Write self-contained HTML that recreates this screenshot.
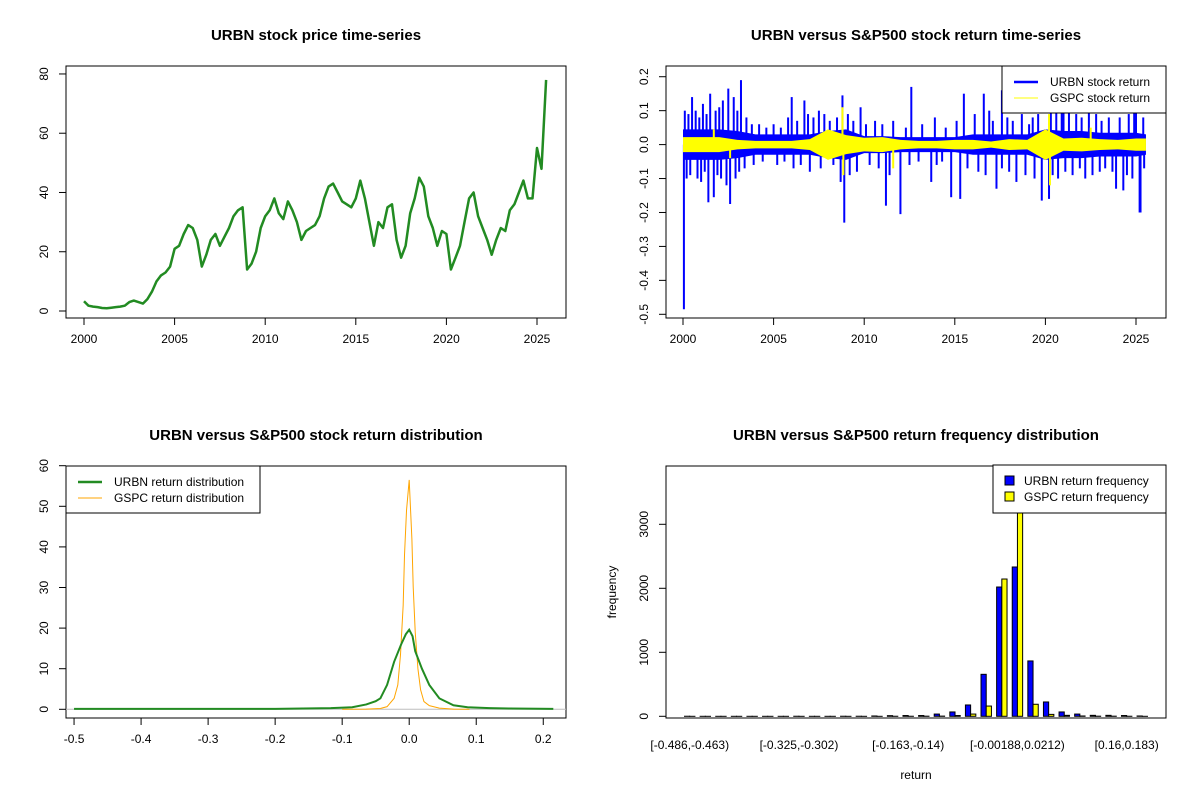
<!DOCTYPE html>
<html><head><meta charset="utf-8"><style>
html,body{margin:0;padding:0;background:#fff;}
svg{display:block;font-family:"Liberation Sans",Arial,sans-serif;}
</style></head><body>
<svg id="chart" width="1200" height="800" viewBox="0 0 1200 800" xmlns="http://www.w3.org/2000/svg"></svg>
<script>
// ---------- Panel 1: price ----------
const priceStartYear = 2000;
const priceStep = 0.25;
const priceValues = [3.3,1.8,1.5,1.3, 1.0,0.9,1.1,1.3, 1.5,1.8,3.0,3.5, 3.0,2.5,4.0,6.5, 10,12,13,15,
 21,22,26,29, 28,24,15,19, 24,26,22,25, 28,32,34,35, 14,16,20,28, 32,34,38,33, 31,37,34,30,
 24,27,28,29, 32,38,42,43, 40,37,36,35, 38,44,38,30, 22,30,28,35, 36,24,18,22, 33,38,45,42,
 32,28,22,27, 26,14,18,22, 30,38,40,32, 28,24,19,24, 28,27,34,36, 40,44,38,38, 55,48,78];
const priceTicksY = [0,20,40,60,80];
const yearTicks = [2000,2005,2010,2015,2020,2025];
// ---------- Panel 2: returns ----------
const bandYears = [2000,2001,2002,2003,2004,2005,2006,2007,2008,2009,2010,2011,2012,2013,2014,2015,2016,2017,2018,2019,2020,2021,2022,2023,2024,2025,2025.55];
const urbnBandHi = [0.045,0.045,0.045,0.04,0.03,0.03,0.03,0.03,0.04,0.045,0.025,0.025,0.022,0.022,0.022,0.022,0.03,0.03,0.03,0.03,0.045,0.04,0.04,0.035,0.035,0.035,0.03];
const urbnBandLo = [-0.045,-0.045,-0.045,-0.04,-0.03,-0.03,-0.03,-0.03,-0.04,-0.045,-0.025,-0.025,-0.022,-0.022,-0.022,-0.022,-0.03,-0.03,-0.03,-0.03,-0.045,-0.04,-0.04,-0.035,-0.035,-0.035,-0.03];
const gspcBandHi = [0.022,0.022,0.022,0.014,0.011,0.011,0.011,0.016,0.045,0.028,0.02,0.022,0.014,0.011,0.011,0.014,0.014,0.009,0.016,0.014,0.045,0.018,0.02,0.016,0.014,0.018,0.018];
const gspcBandLo = [-0.022,-0.022,-0.022,-0.014,-0.011,-0.011,-0.011,-0.016,-0.045,-0.028,-0.02,-0.022,-0.014,-0.011,-0.011,-0.014,-0.014,-0.009,-0.016,-0.014,-0.045,-0.018,-0.02,-0.016,-0.014,-0.018,-0.018];
const urbnSpikeYears = [2000.1,2000.5,2001.5,2002.5,2002.8,2003.2,2006.0,2006.7,2007.5,2008.8,2009.8,2012.6,2015.5,2016.6,2017.6,2019.6,2020.3,2021.0,2024.9,
 2000.05,2000.2,2001.4,2001.7,2002.6,2002.9,2008.9,2011.2,2012.0,2013.7,2014.8,2015.3,2017.3,2018.4,2019.8,2020.2,2023.9,2024.3,2025.2,2025.25,
 2000.3,2000.7,2000.9,2001.1,2001.3,2001.8,2002.0,2002.2,2003.0,2003.5,2003.8,2004.2,2004.6,2005.0,2005.4,2005.8,2006.3,2006.9,2007.2,2007.8,2008.1,2008.5,2009.1,2009.4,2010.1,2010.6,2011.0,2011.6,2012.3,2013.2,2013.9,2014.5,2015.1,2016.1,2016.9,2017.1,2017.9,2018.2,2018.7,2019.1,2019.3,2020.6,2020.9,2021.3,2021.7,2022.0,2022.4,2022.8,2023.1,2023.5,2024.1,2024.6,2025.0,2025.4,
 2000.4,2000.8,2001.0,2001.2,2001.9,2002.1,2002.4,2003.1,2003.4,2003.9,2004.4,2005.2,2005.6,2006.1,2006.5,2007.0,2007.6,2008.3,2008.7,2009.2,2009.6,2010.3,2010.8,2011.4,2012.5,2013.0,2014.0,2014.3,2015.7,2016.3,2016.7,2017.6,2018.0,2018.9,2019.4,2020.4,2020.7,2021.1,2021.5,2021.9,2022.2,2022.6,2023.0,2023.3,2023.7,2024.5,2024.8,2025.45];
const urbnSpikeValues = [0.1,0.14,0.15,0.165,0.14,0.19,0.14,0.13,0.1,0.145,0.11,0.17,0.15,0.15,0.16,0.09,0.15,0.13,0.13,
 -0.485,-0.1,-0.17,-0.155,-0.175,-0.1,-0.23,-0.18,-0.205,-0.11,-0.155,-0.16,-0.13,-0.11,-0.165,-0.16,-0.13,-0.135,-0.2,-0.2,
 0.09,0.1,0.08,0.12,0.09,0.1,0.11,0.13,0.1,0.08,0.06,0.06,0.05,0.06,0.05,0.08,0.07,0.09,0.08,0.09,0.07,0.08,0.09,0.07,0.06,0.07,0.06,0.07,0.05,0.06,0.08,0.05,0.07,0.09,0.1,0.07,0.08,0.07,0.09,0.06,0.08,0.12,0.11,0.1,0.09,0.08,0.1,0.09,0.07,0.08,0.08,0.09,0.1,0.08,
 -0.09,-0.1,-0.11,-0.08,-0.09,-0.1,-0.12,-0.08,-0.07,-0.06,-0.05,-0.06,-0.05,-0.07,-0.06,-0.08,-0.07,-0.06,-0.11,-0.09,-0.08,-0.06,-0.07,-0.09,-0.06,-0.05,-0.06,-0.05,-0.07,-0.08,-0.09,-0.07,-0.08,-0.09,-0.1,-0.09,-0.1,-0.08,-0.09,-0.07,-0.1,-0.09,-0.08,-0.07,-0.08,-0.09,-0.1,-0.07];
const gspcSpikeYears = [2008.8,2008.85,2020.2,2020.25,2001.7,2002.6,2011.6,2022.5];
const gspcSpikeValues = [0.11,-0.09,0.09,-0.12,0.045,-0.04,-0.07,0.05];
const returnTicksY = [0.2,0.1,0.0,-0.1,-0.2,-0.3,-0.4,-0.5];
// ---------- Panel 3: densities ----------
const urbnDensX = [-0.5,-0.2,-0.117,-0.085,-0.064,-0.05,-0.043,-0.033,-0.0225,-0.012,-0.005,0,0.005,0.009,0.019,0.03,0.045,0.066,0.087,0.12,0.15,0.215];
const urbnDensY = [0.1,0.1,0.3,0.5,1.2,2.0,2.7,6,11.7,16,18.5,19.6,18,14.3,10,6,2.7,1,0.5,0.3,0.2,0.1];
const gspcDensX = [-0.1,-0.064,-0.043,-0.033,-0.0225,-0.017,-0.013,-0.009,-0.007,-0.004,0,0.004,0.006,0.009,0.013,0.017,0.022,0.03,0.045,0.066,0.09];
const gspcDensY = [0,0.05,0.2,0.65,2.7,6,13.4,25.6,38,49,56.5,42,30,19,10,4.8,1.9,0.9,0.3,0.05,0];
const densTicksX = [-0.5,-0.4,-0.3,-0.2,-0.1,0.0,0.1,0.2];
const densTicksY = [0,10,20,30,40,50,60];
// ---------- Panel 4: histogram ----------
const binLabels = ["[-0.486,-0.463)","[-0.325,-0.302)","[-0.163,-0.14)","[-0.00188,0.0212)","[0.16,0.183)"];
const binLabelIndex = [0,7,14,21,28];
const urbnFreq = [1,0,0,0,0,0,0,1,0,0,1,1,5,10,12,12,35,68,177,656,2020,2333,865,224,68,35,15,15,12,5];
const gspcFreq = [0,0,0,0,0,0,0,0,0,0,0,0,0,1,1,2,3,12,35,160,2145,3850,188,30,15,5,2,2,1,0];
const freqTicksY = [0,1000,2000,3000];

const svg = document.getElementById('chart');
const NS = 'http://www.w3.org/2000/svg';
function mk(tag, attrs, parent){ const e=document.createElementNS(NS,tag); for(const k in attrs) e.setAttribute(k,attrs[k]); (parent||svg).appendChild(e); return e; }
function txt(s, x, y, attrs, parent){ const t=mk('text',Object.assign({x:x,y:y,'font-size':12,fill:'#000','text-anchor':'middle'},attrs||{}),parent); t.textContent=s; return t; }

function panelFrame(name, x0, y0, title){
  const g = mk('g',{});
  
  
  const r = mk('rect',{x:x0,y:y0,width:500,height:252,fill:'none',stroke:'#000','stroke-width':1},g);
  
  
  const t = txt(title, x0+250, y0-26, {'font-size':15,'font-weight':'bold'}, g);
  
  
  return g;
}
function yAxis(g, ticks, fy, x0, fmt){
  const ax = mk('g',{},g);
  
  
  const ys = ticks.map(fy);
  mk('line',{x1:x0,x2:x0,y1:Math.min(...ys),y2:Math.max(...ys),stroke:'#000'},ax);
  ticks.forEach((v,i)=>{
    mk('line',{x1:x0,x2:x0-7,y1:ys[i],y2:ys[i],stroke:'#000'},ax);
    const t = txt(fmt?fmt(v):String(v), x0-18, ys[i], {transform:`rotate(-90 ${x0-18} ${ys[i]})`}, ax);
    
    
  });
}
function xAxis(g, ticks, fx, y0, fmt){
  const ax = mk('g',{},g);
  
  
  const xs = ticks.map(fx);
  mk('line',{x1:Math.min(...xs),x2:Math.max(...xs),y1:y0,y2:y0,stroke:'#000'},ax);
  ticks.forEach((v,i)=>{
    mk('line',{x1:xs[i],x2:xs[i],y1:y0,y2:y0+7,stroke:'#000'},ax);
    const t = txt(fmt?fmt(v):String(v), xs[i], y0+25, {}, ax);
    
    
  });
}
function legend(g, x, y, w, h, entries){
  const lg = mk('g',{},g);
  
  
  mk('rect',{x:x,y:y,width:w,height:h,fill:'#fff',stroke:'#000'},lg);
  entries.forEach((e,i)=>{
    const yy = y+16+i*16;
    if(e.box){ mk('rect',{x:x+12,y:yy-5,width:9,height:9,fill:e.color,stroke:'#000'},lg); }
    else { mk('line',{x1:x+12,x2:x+36,y1:yy,y2:yy,stroke:e.color,'stroke-width':e.w},lg); }
    const t = txt(e.label, x+(e.box?31:48), yy+4, {'text-anchor':'start'}, lg);
    
    
  });
}
const fmt1 = v => v.toFixed(1);

// ===== Panel 1 =====
(function(){
  const g = panelFrame('price-panel', 66, 66, 'URBN stock price time-series');
  const fx = yr => 84 + (yr-2000)*18.12;
  const fy = v => 311 - v*2.963;
  yAxis(g, priceTicksY, fy, 66);
  xAxis(g, yearTicks, fx, 318);
  const pts = priceValues.map((v,i)=>`${fx(priceStartYear+i*priceStep).toFixed(1)},${fy(v).toFixed(1)}`).join(' ');
  const l = mk('polyline',{points:pts,fill:'none',stroke:'#228B22','stroke-width':2.5,'stroke-linejoin':'round'},g);
  
  
})();

// ===== Panel 2 =====
(function(){
  const g = panelFrame('return-timeseries-panel', 666, 66, 'URBN versus S&P500 stock return time-series');
  const fx = yr => 683 + (yr-2000)*18.12;
  const fy = v => 144.6 - v*339.4;
  yAxis(g, returnTicksY, fy, 666, fmt1);
  xAxis(g, yearTicks, fx, 318);
  function band(hi, lo, color, name){
    const top = bandYears.map((y,i)=>`${fx(y)},${fy(hi[i])}`);
    const bot = bandYears.map((y,i)=>`${fx(y)},${fy(lo[i])}`).reverse();
    const p = mk('polygon',{points:top.concat(bot).join(' '),fill:color},g);
    
    
  }
  band(urbnBandHi, urbnBandLo, '#0000FF', 'urbn-return-band');
  urbnSpikeYears.forEach((y,i)=>{
    const s = mk('line',{x1:fx(y),x2:fx(y),y1:fy(0),y2:fy(urbnSpikeValues[i]),stroke:'#0000FF','stroke-width':2},g);
    
    
  });
  band(gspcBandHi, gspcBandLo, '#FFFF00', 'gspc-return-band');
  gspcSpikeYears.forEach((y,i)=>{
    const s = mk('line',{x1:fx(y),x2:fx(y),y1:fy(0),y2:fy(gspcSpikeValues[i]),stroke:'#FFFF00','stroke-width':2},g);
    
    
  });
  legend(g, 1002, 66, 164, 47, [{label:'URBN stock return',color:'#0000FF',w:2.5},{label:'GSPC stock return',color:'#FFFF00',w:1}]);
})();

// ===== Panel 3 =====
(function(){
  const g = panelFrame('return-density-panel', 66, 466, 'URBN versus S&P500 stock return distribution');
  const fx = v => 409.2 + v*670.3;
  const fy = v => 709.3 - v*4.06;
  yAxis(g, densTicksY, fy, 66);
  xAxis(g, densTicksX, fx, 718, fmt1);
  mk('line',{x1:66,x2:566,y1:fy(0),y2:fy(0),stroke:'#bebebe'},g);
  const gp = mk('polyline',{points:gspcDensX.map((x,i)=>`${fx(x)},${fy(gspcDensY[i])}`).join(' '),fill:'none',stroke:'#FFA500','stroke-width':1},g);
  
  
  const up = mk('polyline',{points:urbnDensX.map((x,i)=>`${fx(x)},${fy(urbnDensY[i])}`).join(' '),fill:'none',stroke:'#228B22','stroke-width':2},g);
  
  
  legend(g, 66, 466, 194, 47, [{label:'URBN return distribution',color:'#228B22',w:2.5},{label:'GSPC return distribution',color:'#FFA500',w:1}]);
})();

// ===== Panel 4 =====
(function(){
  const g = panelFrame('return-histogram-panel', 666, 466, 'URBN versus S&P500 return frequency distribution');
  const ux = u => 666 + (u+2.56)*500/96.12;
  const fy = v => 716.3 - v*0.064;
  yAxis(g, freqTicksY, fy, 666);
  urbnFreq.forEach((v,i)=>{
    const x0 = ux(1+3*i), x1 = ux(2+3*i);
    const b = mk('rect',{x:x0,y:fy(v),width:x1-x0,height:Math.max(fy(0)-fy(v),0.01),fill:'#0000FF',stroke:'#000','stroke-width':1},g);
    
    
  });
  gspcFreq.forEach((v,i)=>{
    const x0 = ux(2+3*i), x1 = ux(3+3*i);
    const b = mk('rect',{x:x0,y:fy(v),width:x1-x0,height:Math.max(fy(0)-fy(v),0.01),fill:'#FFFF00',stroke:'#000','stroke-width':1},g);
    
    
  });
  binLabelIndex.forEach((bi,k)=>{
    const t = txt(binLabels[k], ux(2+3*bi), 749, {}, g);
    
    
  });
  const xl = txt('return', 916, 779, {}, g);
  
  
  const yl = txt('frequency', 616, 592, {transform:'rotate(-90 616 592)'}, g);
  
  
  legend(g, 993, 465, 173, 48, [{label:'URBN return frequency',color:'#0000FF',box:true},{label:'GSPC return frequency',color:'#FFFF00',box:true}]);
})();
</script>
</body></html>
